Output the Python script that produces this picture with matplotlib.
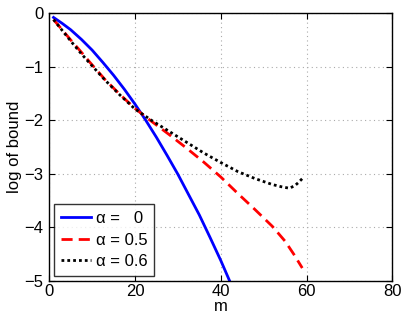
import matplotlib
matplotlib.use("Agg")
import matplotlib.pyplot as plt

plt.rcParams['font.family'] = ['Liberation Sans', 'DejaVu Sans']
plt.rcParams['axes.unicode_minus'] = True

m_blue = [1, 3, 5, 7.5, 10, 12.5, 15, 17.5, 20, 22.5, 25, 27.5, 30, 32.5, 35, 37.5, 40, 42, 43]
y_blue = [-0.08, -0.19, -0.31, -0.49, -0.69, -0.92, -1.16, -1.42, -1.70, -2.00, -2.32, -2.66, -3.01, -3.39, -3.77, -4.19, -4.62, -4.99, -5.18]

m_red = [1, 3, 5, 7.5, 9.5, 13, 16.5, 20, 24, 28, 32, 36, 40, 44, 48, 52, 55, 57, 59]
y_red = [-0.12, -0.31, -0.50, -0.73, -0.92, -1.24, -1.52, -1.78, -2.03, -2.27, -2.52, -2.78, -3.06, -3.37, -3.67, -3.98, -4.26, -4.50, -4.76]

m_black = [1, 3, 5, 7.5, 9.5, 13, 16.5, 20, 24, 28, 32, 36, 40, 44, 48, 52, 54, 56, 57.3, 58, 59]
y_black = [-0.12, -0.32, -0.52, -0.76, -0.94, -1.25, -1.53, -1.79, -2.01, -2.21, -2.41, -2.61, -2.79, -2.96, -3.09, -3.20, -3.24, -3.27, -3.22, -3.17, -3.09]

labels = ['α =   0', 'α = 0.5', 'α = 0.6']

fig = plt.figure(figsize=(4.07, 3.21), dpi=100)
ax = fig.add_axes([0.121, 0.125, 0.843, 0.834])

ax.plot(m_blue, y_blue, color='#0000ff', lw=2, label=labels[0])
ax.plot(m_red, y_red, color='#ff0000', lw=2, linestyle=(0, (4, 2.2)), label=labels[1])
ax.plot(m_black, y_black, color='black', lw=2, linestyle=(0, (1, 1.1)), label=labels[2])

ax.set_xlim(0, 80)
ax.set_ylim(-5, 0)
ax.set_xticks([0, 20, 40, 60, 80])
ax.set_yticks([-5, -4, -3, -2, -1, 0])
ax.tick_params(direction='in', top=True, right=True, labelsize=12, length=4, width=0.8)
ax.tick_params(axis='x', pad=2)
ax.tick_params(axis='y', pad=4)
ax.grid(True, linestyle=(0, (1, 3)), color='#aaaaaa', lw=0.8)
for s in ax.spines.values():
    s.set_linewidth(1.0)

ax.set_xlabel('m', fontsize=12, labelpad=0)
ax.set_ylabel('log of bound', fontsize=12, labelpad=2)

leg = ax.legend(loc='lower left', fontsize=12, frameon=True, fancybox=False,
                edgecolor='black', borderaxespad=0.3, handlelength=1.8,
                handletextpad=0.3, labelspacing=0.4, borderpad=0.4)
leg.get_frame().set_linewidth(1.0)

fig.savefig('out.png', dpi=100)
